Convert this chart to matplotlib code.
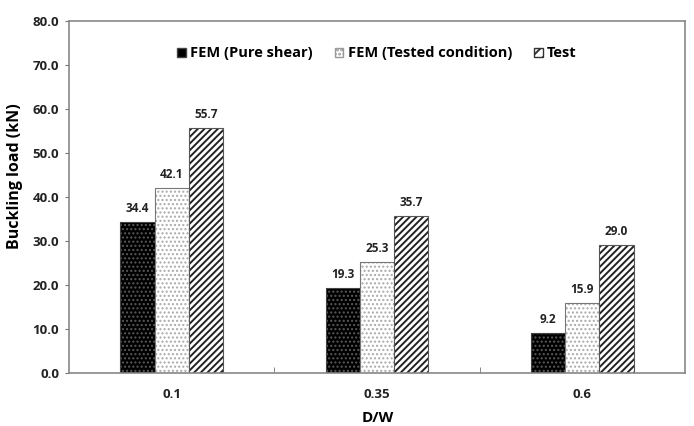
import numpy as np
import matplotlib.pyplot as plt
from matplotlib.patches import Patch

categories = ["0.1", "0.35", "0.6"]
fem_pure = [34.4, 19.3, 9.2]
fem_tested = [42.1, 25.3, 15.9]
test = [55.7, 35.7, 29.0]
labels = ["FEM (Pure shear)", "FEM (Tested condition)", "Test"]

plt.rcParams["font.family"] = ["Open Sans", "DejaVu Sans"]
plt.rcParams["font.weight"] = "bold"
plt.rcParams["hatch.linewidth"] = 1.0

fig = plt.figure(figsize=(6.94, 4.26), dpi=100)
ax = fig.add_axes([0.0994, 0.1244, 0.8876, 0.8263])

x = np.arange(len(categories))
w = 0.167

# black bar with faint dots
ax.bar(x - w, fem_pure, w, color="black", edgecolor="#5a5a5a", hatch="....", linewidth=0)
ax.bar(x - w, fem_pure, w, fill=False, edgecolor="#444444", linewidth=0.8)
# white bar with grey dots
ax.bar(x, fem_tested, w, color="white", edgecolor="#aaaaaa", hatch="....", linewidth=0)
ax.bar(x, fem_tested, w, fill=False, edgecolor="#777777", linewidth=0.8)
# diagonal hatch
plt.rcParams["hatch.linewidth"] = 1.4
ax.bar(x + w, test, w, color="white", edgecolor="#222222", hatch="/////", linewidth=0)
ax.bar(x + w, test, w, fill=False, edgecolor="#555555", linewidth=0.8)

for off, vals in [(-w, fem_pure), (0, fem_tested), (w, test)]:
    for xi, v in zip(x, vals):
        ax.annotate(f"{v:.1f}", (xi + off, v), xytext=(0, 5), textcoords="offset points",
                    ha="center", va="bottom", fontsize=8.5, fontweight="bold", color="#222222")

ax.set_xlim(-0.5, 2.5)
ax.set_ylim(0, 80)
ax.set_yticks(np.arange(0, 81, 10))
ax.set_yticklabels([f"{t:.1f}" for t in np.arange(0, 81, 10)], fontsize=9.5, fontweight="bold", color="#222222")
ax.set_xticks(x)
ax.set_xticklabels(categories, fontsize=9.5, fontweight="bold", color="#222222")
ax.tick_params(axis="x", length=0, pad=11)
ax.set_xticks([0.5, 1.5], minor=True)
ax.tick_params(axis="x", which="minor", direction="in", length=4, color="#777777")
ax.tick_params(axis="y", length=3, color="#777777", pad=4)

for s in ax.spines.values():
    s.set_color("#888888")
    s.set_linewidth(1.2)

ax.set_ylabel("Buckling load (kN)", fontsize=11.5, fontweight="bold")
ax.yaxis.set_label_coords(-0.074, 0.56)
fig.text(0.545, 0.018, "D/W", ha="center", va="center", fontsize=11, fontweight="bold")

handles = [
    Patch(facecolor="black", edgecolor="#444444"),
    Patch(facecolor="white", edgecolor="#999999", hatch="...."),
    Patch(facecolor="white", edgecolor="#333333", hatch="///"),
]
ax.legend(handles, labels, loc="upper center", bbox_to_anchor=(0.5, 0.965), ncol=3, frameon=False,
          handlelength=0.6, handleheight=0.6, handletextpad=0.3, columnspacing=1.5,
          prop={"weight": "bold", "size": 10.5})

fig.savefig("out.png", dpi=100)
